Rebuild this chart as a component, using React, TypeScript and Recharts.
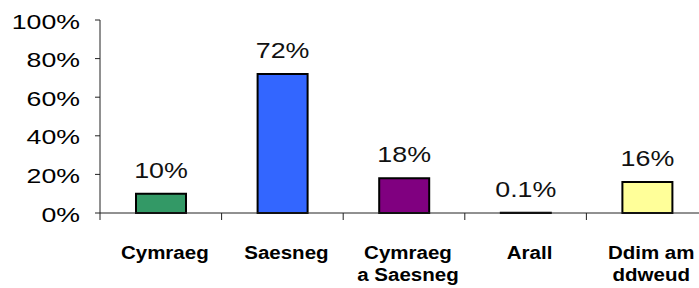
import { BarChart, Bar, XAxis, YAxis, Cell, LabelList } from 'recharts'

const categories = ['Cymraeg', 'Saesneg', 'Cymraeg\na Saesneg', 'Arall', 'Ddim am\nddweud']
const shares = [10, 72, 18, 0.1, 16]
const shareLabels = ['10%', '72%', '18%', '0.1%', '16%']
const yTicks = [0, 20, 40, 60, 80, 100]
const barColors = ['#339966', '#3366FF', '#800080', '#000000', '#FFFF99']

const data = categories.map((name, i) => ({ name, value: shares[i], label: shareLabels[i] }))

const FONT = '"Liberation Sans", Arial, sans-serif'

function YTick({ x, y, payload }: any) {
  return (
    <g transform={`translate(${x - 15} ${y + 8.5}) scale(1.27 1)`}>
      <text x={0} y={0} textAnchor="end" fontFamily={FONT} fontSize={21} fill="#000">
        {payload.value}%
      </text>
    </g>
  )
}

function XTick({ x, y, payload }: any) {
  const half = payload.offset ?? 60.8
  const lines = String(payload.value).split('\n')
  return (
    <g>
      <line x1={x - half} x2={x - half} y1={y} y2={y + 7} stroke="#222" strokeWidth={1} />
      {lines.map((line, i) => (
        <g key={i} transform={`translate(${x + 4} ${y + 46 + i * 22}) scale(1.08 1)`}>
          <text x={0} y={0} textAnchor="middle" fontFamily={FONT} fontSize={19} fontWeight="bold" fill="#000">
            {line}
          </text>
        </g>
      ))}
    </g>
  )
}

function ValueLabel({ x, y, width, value }: any) {
  return (
    <g transform={`translate(${x + width / 2} ${y - 16}) scale(1.22 1)`}>
      <text x={0} y={0} textAnchor="middle" fontFamily={FONT} fontSize={22} fill="#111">
        {value}
      </text>
    </g>
  )
}

export default function App() {
  return (
    <div style={{ position: 'absolute', left: 0, top: 0, width: 699, height: 288, overflow: 'hidden', background: '#fff' }}>
      <BarChart width={708} height={288} data={data} margin={{ top: 20, right: 0, bottom: 0, left: 0 }} barCategoryGap={0}>
        <XAxis
          dataKey="name"
          interval={0}
          height={75}
          tickSize={0}
          tickMargin={0}
          axisLine={{ stroke: '#222', strokeWidth: 1 }}
          tick={<XTick />}
        />
        <YAxis
          domain={[0, 100]}
          ticks={yTicks}
          width={100}
          tickSize={5}
          tickMargin={0}
          axisLine={{ stroke: '#222', strokeWidth: 1 }}
          tickLine={{ stroke: '#222', strokeWidth: 1 }}
          tick={<YTick />}
        />
        <Bar dataKey="value" barSize={50} stroke="#000" strokeWidth={2} isAnimationActive={false}>
          {data.map((d, i) => (
            <Cell key={d.name} fill={barColors[i]} />
          ))}
          <LabelList dataKey="label" content={<ValueLabel />} />
        </Bar>
      </BarChart>
    </div>
  )
}
